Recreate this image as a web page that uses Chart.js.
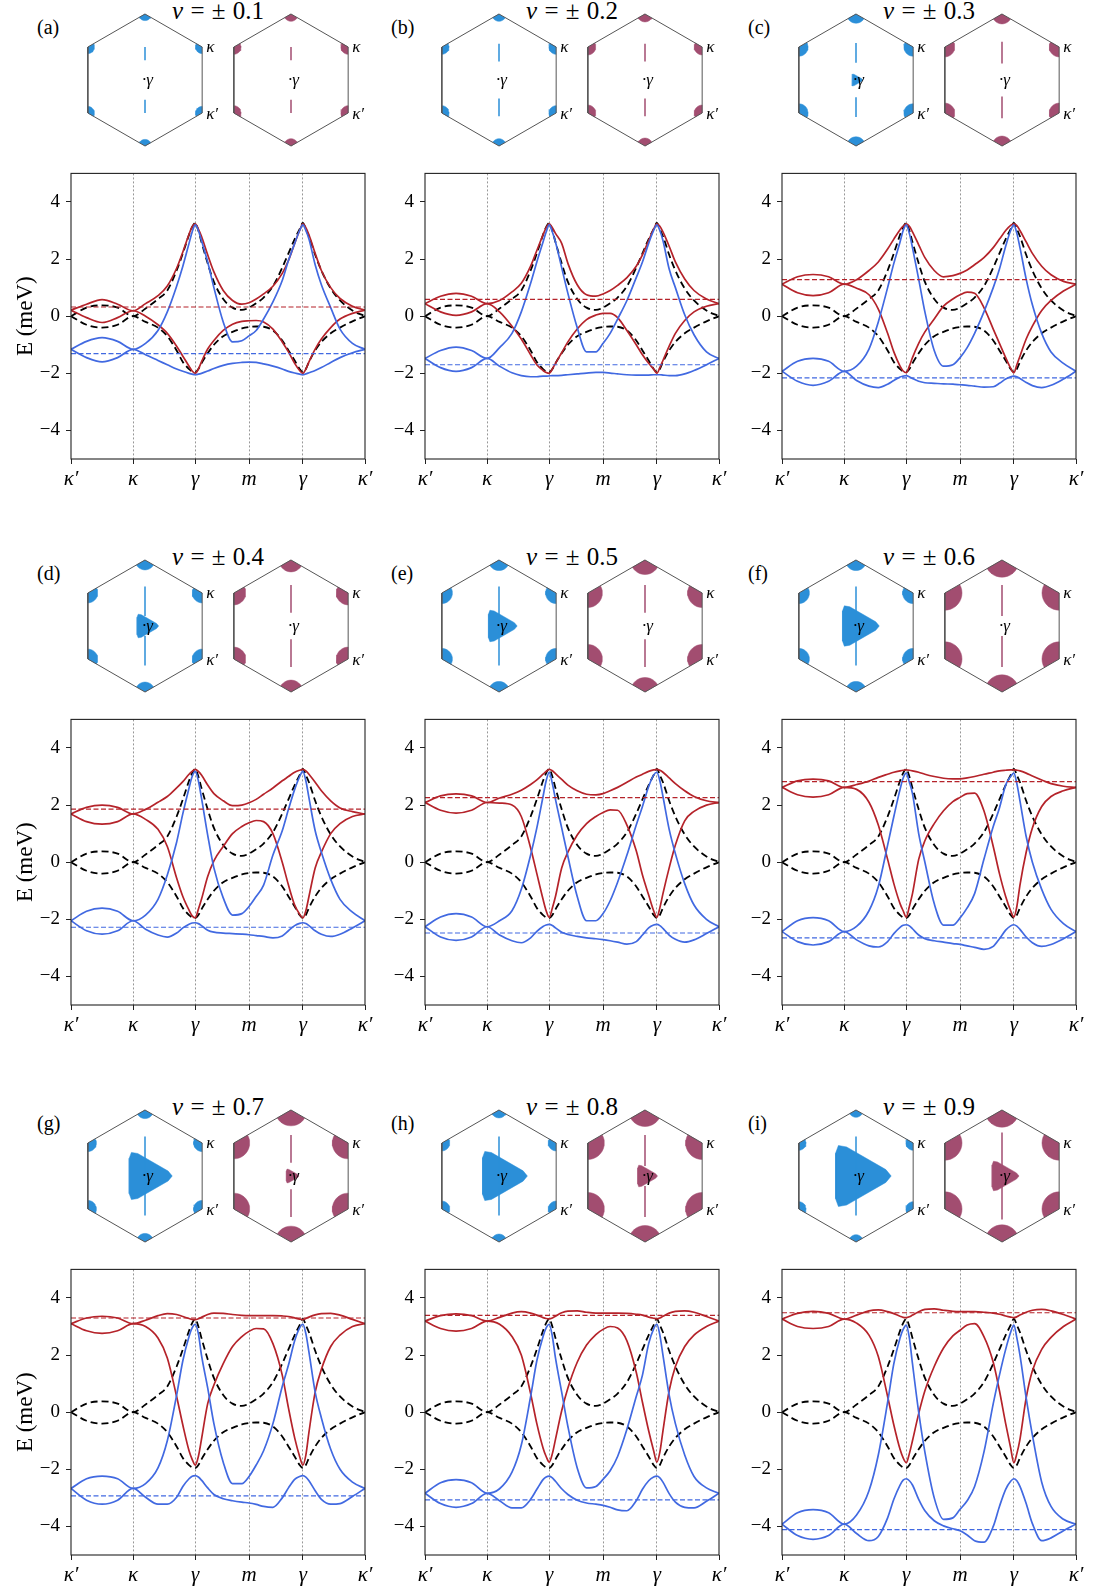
<!DOCTYPE html>
<html>
<head>
<meta charset="utf-8">
<script src="https://cdn.jsdelivr.net/npm/chart.js@4.4.1/dist/chart.umd.min.js"></script>
<style>
  body { margin: 0; background: #fff; width: 1093px; height: 1591px; position: relative; overflow: hidden;
         font-family: "Liberation Serif", "DejaVu Serif", serif; color: #000; }
  .ttl { position: absolute; font-size: 25px; line-height: 25px; transform: translateX(-50%); white-space: nowrap; word-spacing: 1px; }
  .tag { position: absolute; font-size: 20px; line-height: 20px; }
</style>
</head>
<body>
<script>
// ---- data ----
const panelTags = ['(a)', '(b)', '(c)', '(d)', '(e)', '(f)', '(g)', '(h)', '(i)'];
const fillings = ['0.1', '0.2', '0.3', '0.4', '0.5', '0.6', '0.7', '0.8', '0.9'];

// k-path: κ' -> κ -> γ -> m -> γ -> κ'  (|κ| = 1)
const kPath = [0, 0.25, 0.5, 0.75, 1,
  1.2, 1.4, 1.55, 1.7, 1.8, 1.9, 1.95, 2,
  2.05, 2.1, 2.2, 2.3, 2.45, 2.6, 2.75, 2.866,
  2.98, 3.1, 3.25, 3.4, 3.5, 3.6, 3.68, 3.732,
  3.78, 3.83, 3.93, 4.03, 4.18, 4.33, 4.53, 4.732];
const tickPos = [0, 1, 2, 2.866, 3.732, 4.732];
const tickLabels = ['κ′', 'κ', 'γ', 'm', 'γ', 'κ′'];
const yTicks = [-4, -2, 0, 2, 4];

// bare bands (black dashed, same in every panel)
const bareUpper = [0, 0.3, 0.38, 0.3, 0,
  0.27, 0.6, 0.9, 1.6, 2.2, 2.85, 3.12, 3.27,
  3.0, 2.6, 1.85, 1.2, 0.6, 0.3, 0.22, 0.3,
  0.45, 0.65, 1.05, 1.7, 2.2, 2.7, 3.05, 3.27,
  3.05, 2.8, 2.15, 1.6, 0.97, 0.55, 0.2, 0];
const bareLower = [0, -0.3, -0.4, -0.3, 0,
  -0.2, -0.4, -0.7, -1.2, -1.6, -1.85, -1.93, -1.96,
  -1.85, -1.65, -1.3, -1.0, -0.7, -0.55, -0.43, -0.38,
  -0.36, -0.37, -0.5, -0.85, -1.2, -1.55, -1.85, -1.96,
  -1.85, -1.6, -1.2, -0.9, -0.6, -0.4, -0.18, 0];

// Hartree-Fock bands, one row per panel (a..i)
const redUpper = [
  [0.21, 0.42, 0.58, 0.42, 0.19, 0.44, 0.72, 1.06, 1.68, 2.25, 2.87, 3.13, 3.23, 3.05, 2.8, 2.15, 1.55, 0.9, 0.55, 0.42, 0.47, 0.6, 0.78, 1.05, 1.5, 1.95, 2.55, 3.0, 3.23, 3.1, 2.85, 2.2, 1.6, 1.0, 0.62, 0.35, 0.21],
  [0.44, 0.7, 0.8, 0.7, 0.44, 0.55, 0.85, 1.15, 1.75, 2.3, 2.85, 3.1, 3.23, 3.1, 2.9, 2.55, 1.85, 1.1, 0.75, 0.7, 0.78, 0.9, 1.08, 1.35, 1.75, 2.15, 2.65, 3.05, 3.23, 3.15, 2.95, 2.45, 1.9, 1.3, 0.9, 0.6, 0.44],
  [1.12, 1.38, 1.46, 1.38, 1.12, 1.28, 1.6, 1.9, 2.35, 2.7, 3.03, 3.15, 3.23, 3.15, 2.95, 2.5, 2.05, 1.6, 1.38, 1.42, 1.5, 1.62, 1.8, 2.05, 2.4, 2.7, 3.0, 3.18, 3.23, 3.17, 3.0, 2.6, 2.2, 1.75, 1.45, 1.22, 1.12],
  [1.69, 1.92, 2.0, 1.92, 1.69, 1.85, 2.1, 2.3, 2.6, 2.82, 3.08, 3.18, 3.25, 3.18, 3.05, 2.7, 2.4, 2.15, 1.98, 2.0, 2.08, 2.2, 2.38, 2.6, 2.85, 3.0, 3.15, 3.22, 3.25, 3.2, 3.08, 2.8, 2.5, 2.15, 1.9, 1.77, 1.69],
  [2.09, 2.32, 2.39, 2.32, 2.09, 2.25, 2.38, 2.52, 2.72, 2.88, 3.08, 3.18, 3.25, 3.2, 3.1, 2.9, 2.7, 2.5, 2.38, 2.36, 2.4, 2.5, 2.62, 2.8, 2.98, 3.08, 3.18, 3.23, 3.25, 3.22, 3.15, 2.95, 2.75, 2.5, 2.3, 2.15, 2.09],
  [2.62, 2.85, 2.91, 2.85, 2.62, 2.72, 2.84, 2.97, 3.08, 3.15, 3.2, 3.22, 3.23, 3.22, 3.2, 3.15, 3.08, 3.0, 2.94, 2.92, 2.92, 2.95, 3.0, 3.08, 3.15, 3.2, 3.22, 3.23, 3.23, 3.22, 3.2, 3.12, 3.02, 2.88, 2.75, 2.66, 2.62],
  [3.1, 3.3, 3.36, 3.3, 3.1, 3.22, 3.38, 3.45, 3.42, 3.35, 3.28, 3.25, 3.24, 3.27, 3.32, 3.42, 3.47, 3.46, 3.42, 3.39, 3.38, 3.38, 3.38, 3.38, 3.37, 3.35, 3.3, 3.26, 3.24, 3.28, 3.33, 3.41, 3.45, 3.46, 3.4, 3.25, 3.1],
  [3.19, 3.38, 3.44, 3.38, 3.19, 3.32, 3.47, 3.52, 3.47, 3.4, 3.31, 3.28, 3.27, 3.3, 3.36, 3.48, 3.54, 3.55, 3.5, 3.47, 3.47, 3.47, 3.47, 3.46, 3.43, 3.4, 3.33, 3.29, 3.27, 3.3, 3.36, 3.47, 3.53, 3.55, 3.5, 3.35, 3.19],
  [3.26, 3.46, 3.53, 3.46, 3.26, 3.4, 3.55, 3.58, 3.52, 3.45, 3.36, 3.32, 3.31, 3.34, 3.4, 3.52, 3.6, 3.62, 3.57, 3.53, 3.52, 3.52, 3.52, 3.5, 3.47, 3.43, 3.37, 3.33, 3.31, 3.34, 3.4, 3.5, 3.57, 3.6, 3.55, 3.42, 3.26]
];
const redLower = [
  [0.21, -0.05, -0.22, -0.05, 0.19, 0.0, -0.3, -0.6, -1.05, -1.4, -1.75, -1.92, -2.0, -1.85, -1.6, -1.15, -0.85, -0.5, -0.28, -0.18, -0.16, -0.15, -0.2, -0.45, -0.9, -1.25, -1.65, -1.9, -2.0, -1.85, -1.6, -1.15, -0.8, -0.4, -0.1, 0.1, 0.21],
  [0.44, 0.15, 0.03, 0.15, 0.44, 0.15, -0.35, -0.8, -1.35, -1.7, -1.9, -1.97, -2.0, -1.85, -1.65, -1.28, -0.9, -0.45, -0.12, 0.04, 0.1, 0.1, -0.05, -0.5, -1.0, -1.35, -1.65, -1.85, -2.0, -1.8, -1.55, -1.05, -0.6, -0.15, 0.15, 0.35, 0.44],
  [1.12, 0.82, 0.72, 0.82, 1.12, 0.98, 0.75, 0.25, -0.6, -1.25, -1.75, -1.92, -1.98, -1.75, -1.45, -0.95, -0.55, -0.1, 0.35, 0.6, 0.75, 0.84, 0.8, 0.3, -0.45, -0.95, -1.45, -1.82, -1.98, -1.7, -1.4, -0.8, -0.35, 0.2, 0.55, 0.88, 1.12],
  [1.69, 1.42, 1.33, 1.42, 1.69, 1.5, 1.15, 0.55, -0.55, -1.2, -1.68, -1.88, -1.95, -1.65, -1.3, -0.5, 0.05, 0.55, 1.0, 1.25, 1.38, 1.46, 1.42, 1.0, 0.0, -0.8, -1.5, -1.82, -1.95, -1.7, -1.2, -0.2, 0.35, 1.0, 1.35, 1.6, 1.69],
  [2.09, 1.82, 1.72, 1.82, 2.09, 2.07, 2.0, 1.6, 0.5, -0.4, -1.3, -1.7, -1.93, -1.6, -1.2, -0.2, 0.35, 0.95, 1.35, 1.6, 1.74, 1.83, 1.82, 1.3, 0.4, -0.45, -1.15, -1.7, -1.93, -1.6, -1.1, -0.2, 0.6, 1.45, 1.78, 2.0, 2.09],
  [2.62, 2.36, 2.28, 2.36, 2.62, 2.55, 2.1, 1.3, 0.1, -0.75, -1.45, -1.7, -1.92, -1.55, -1.1, 0.1, 0.75, 1.35, 1.8, 2.12, 2.27, 2.4, 2.42, 1.8, 0.55, -0.4, -1.2, -1.7, -1.92, -1.55, -0.8, 0.35, 1.2, 1.95, 2.3, 2.5, 2.62],
  [3.1, 2.85, 2.76, 2.85, 3.1, 3.0, 2.6, 1.9, 0.55, -0.45, -1.35, -1.65, -1.85, -1.55, -0.95, 0.3, 0.95, 1.7, 2.3, 2.65, 2.83, 2.93, 2.92, 2.4, 1.3, 0.15, -0.9, -1.55, -1.85, -1.5, -0.7, 0.7, 1.5, 2.3, 2.7, 3.0, 3.1],
  [3.19, 2.93, 2.84, 2.93, 3.19, 3.08, 2.65, 2.0, 0.65, -0.4, -1.25, -1.55, -1.75, -1.45, -0.95, 0.05, 0.85, 1.75, 2.35, 2.72, 2.9, 3.0, 2.95, 2.5, 1.4, 0.35, -0.65, -1.35, -1.75, -1.4, -0.65, 0.75, 1.6, 2.3, 2.7, 3.0, 3.19],
  [3.26, 3.0, 2.93, 3.0, 3.26, 3.12, 2.7, 1.95, 0.55, -0.45, -1.3, -1.6, -1.77, -1.45, -1.0, -0.05, 0.75, 1.6, 2.25, 2.67, 2.87, 3.05, 3.1, 2.65, 1.75, 0.75, -0.4, -1.25, -1.77, -1.45, -0.95, 0.5, 1.45, 2.2, 2.62, 3.0, 3.26]
];
const blueUpper = [
  [-1.16, -0.88, -0.75, -0.88, -1.16, -0.95, -0.5, 0.15, 1.05, 1.75, 2.55, 2.95, 3.2, 3.0, 2.65, 1.9, 1.0, -0.2, -0.9, -0.86, -0.69, -0.5, -0.1, 0.5, 1.25, 1.95, 2.55, 3.0, 3.2, 3.0, 2.7, 1.8, 1.1, 0.3, -0.45, -0.95, -1.16],
  [-1.48, -1.2, -1.08, -1.2, -1.48, -1.1, -0.6, 0.15, 1.15, 1.9, 2.6, 2.95, 3.2, 2.95, 2.6, 1.7, 0.8, -0.4, -1.25, -1.25, -0.95, -0.6, -0.1, 0.55, 1.35, 1.9, 2.55, 3.0, 3.2, 3.0, 2.65, 1.65, 1.0, 0.05, -0.65, -1.25, -1.48],
  [-1.93, -1.58, -1.48, -1.58, -1.93, -1.75, -1.15, -0.2, 1.0, 1.85, 2.6, 3.0, 3.2, 2.9, 2.4, 1.3, 0.15, -1.2, -1.75, -1.7, -1.45, -1.1, -0.6, 0.15, 1.0, 1.65, 2.45, 3.0, 3.2, 2.9, 2.4, 1.3, 0.4, -0.6, -1.25, -1.65, -1.93],
  [-2.05, -1.72, -1.61, -1.72, -2.05, -1.85, -1.3, -0.45, 0.7, 1.7, 2.6, 3.0, 3.18, 2.85, 2.25, 0.95, -0.2, -1.25, -1.85, -1.8, -1.55, -1.2, -0.8, 0.25, 1.1, 1.85, 2.55, 3.0, 3.18, 2.85, 2.25, 1.1, 0.35, -0.6, -1.3, -1.75, -2.05],
  [-2.26, -1.92, -1.8, -1.92, -2.26, -2.05, -1.7, -0.95, 0.25, 1.2, 2.3, 2.85, 3.15, 2.75, 2.2, 1.2, 0.2, -1.2, -2.05, -2.05, -1.8, -1.35, -0.7, 0.25, 1.3, 1.95, 2.65, 3.05, 3.15, 2.85, 2.3, 1.15, 0.3, -0.75, -1.5, -2.0, -2.26],
  [-2.43, -2.05, -1.94, -2.05, -2.43, -2.25, -1.7, -0.85, 0.6, 1.6, 2.55, 2.95, 3.12, 2.8, 2.4, 1.0, 0.0, -1.45, -2.2, -2.2, -1.95, -1.6, -1.1, 0.1, 1.25, 1.9, 2.7, 3.0, 3.12, 2.75, 2.15, 0.9, 0.0, -0.95, -1.65, -2.15, -2.43],
  [-2.67, -2.33, -2.24, -2.33, -2.67, -2.5, -1.95, -1.0, 0.6, 1.8, 2.65, 2.95, 3.08, 2.75, 2.0, 0.85, -0.4, -1.75, -2.5, -2.5, -2.25, -1.85, -1.35, -0.4, 0.9, 1.65, 2.5, 2.95, 3.08, 2.75, 2.1, 0.7, -0.2, -1.3, -2.0, -2.45, -2.67],
  [-2.84, -2.47, -2.36, -2.47, -2.84, -2.68, -2.1, -1.15, 0.55, 1.8, 2.65, 2.95, 3.08, 2.65, 1.9, 0.7, -0.5, -1.95, -2.65, -2.6, -2.35, -2.05, -1.55, -0.6, 0.55, 1.3, 2.4, 2.92, 3.08, 2.7, 2.0, 0.6, -0.4, -1.5, -2.25, -2.65, -2.84],
  [-3.92, -3.52, -3.41, -3.52, -3.92, -3.6, -2.75, -1.5, 0.35, 1.7, 2.6, 2.9, 3.05, 2.6, 1.7, 0.0, -1.4, -3.0, -3.75, -3.7, -3.4, -3.1, -2.6, -1.4, 0.3, 1.3, 2.2, 2.8, 3.05, 2.6, 2.0, 0.5, -0.8, -2.45, -3.3, -3.75, -3.92]
];
const blueLower = [
  [-1.16, -1.45, -1.6, -1.45, -1.16, -1.35, -1.55, -1.7, -1.85, -1.93, -2.0, -2.03, -2.05, -2.03, -2.0, -1.92, -1.83, -1.72, -1.65, -1.62, -1.61, -1.62, -1.67, -1.75, -1.85, -1.93, -1.99, -2.03, -2.05, -2.02, -1.98, -1.9, -1.8, -1.62, -1.45, -1.28, -1.16],
  [-1.48, -1.8, -1.93, -1.8, -1.48, -1.75, -1.98, -2.08, -2.12, -2.12, -2.1, -2.1, -2.09, -2.08, -2.08, -2.07, -2.05, -2.02, -1.99, -1.97, -1.97, -1.99, -2.02, -2.05, -2.06, -2.06, -2.06, -2.05, -2.05, -2.05, -2.06, -2.08, -2.08, -2.02, -1.9, -1.7, -1.48],
  [-1.93, -2.28, -2.42, -2.28, -1.93, -2.25, -2.45, -2.5, -2.38, -2.25, -2.13, -2.1, -2.08, -2.12, -2.18, -2.28, -2.33, -2.35, -2.37, -2.38, -2.4, -2.42, -2.45, -2.48, -2.47, -2.35, -2.2, -2.12, -2.1, -2.12, -2.18, -2.32, -2.43, -2.5, -2.42, -2.2, -1.93],
  [-2.05, -2.4, -2.52, -2.4, -2.05, -2.35, -2.55, -2.62, -2.48, -2.3, -2.17, -2.13, -2.12, -2.15, -2.22, -2.38, -2.45, -2.48, -2.5, -2.52, -2.54, -2.57, -2.6, -2.65, -2.58, -2.4, -2.22, -2.14, -2.12, -2.15, -2.22, -2.4, -2.52, -2.6, -2.52, -2.3, -2.05],
  [-2.26, -2.62, -2.74, -2.62, -2.26, -2.55, -2.75, -2.82, -2.65, -2.42, -2.25, -2.2, -2.18, -2.22, -2.3, -2.45, -2.53, -2.6, -2.65, -2.68, -2.71, -2.75, -2.8, -2.87, -2.78, -2.55, -2.3, -2.2, -2.18, -2.22, -2.32, -2.55, -2.7, -2.8, -2.72, -2.5, -2.26],
  [-2.43, -2.78, -2.9, -2.78, -2.43, -2.72, -2.93, -2.97, -2.78, -2.5, -2.28, -2.21, -2.19, -2.23, -2.33, -2.55, -2.68, -2.75, -2.8, -2.85, -2.88, -2.93, -2.98, -3.05, -2.95, -2.68, -2.38, -2.23, -2.19, -2.24, -2.35, -2.62, -2.82, -2.95, -2.88, -2.68, -2.43],
  [-2.67, -3.08, -3.22, -3.08, -2.67, -2.98, -3.22, -3.22, -2.98, -2.6, -2.33, -2.24, -2.22, -2.27, -2.38, -2.65, -2.88, -3.03, -3.1, -3.15, -3.18, -3.23, -3.3, -3.33, -3.0, -2.65, -2.35, -2.25, -2.22, -2.27, -2.4, -2.75, -3.05, -3.22, -3.2, -2.95, -2.67],
  [-2.84, -3.2, -3.33, -3.2, -2.84, -3.1, -3.35, -3.35, -3.05, -2.7, -2.36, -2.27, -2.24, -2.3, -2.42, -2.68, -2.88, -3.08, -3.18, -3.22, -3.26, -3.33, -3.42, -3.45, -3.1, -2.7, -2.4, -2.27, -2.24, -2.3, -2.45, -2.85, -3.15, -3.33, -3.35, -3.12, -2.84],
  [-3.92, -4.32, -4.45, -4.32, -3.92, -4.25, -4.5, -4.35, -3.7, -3.05, -2.55, -2.38, -2.33, -2.4, -2.55, -3.05, -3.45, -3.8, -3.98, -4.08, -4.15, -4.3, -4.5, -4.55, -4.0, -3.3, -2.7, -2.42, -2.33, -2.4, -2.6, -3.2, -3.9, -4.5, -4.4, -4.15, -3.92]
];
const redFermi = [0.32, 0.59, 1.28, 1.86, 2.26, 2.82, 3.30, 3.39, 3.48];
const blueFermi = [-1.31, -1.70, -2.16, -2.28, -2.48, -2.65, -2.93, -3.07, -4.11];

// Fermi-surface pockets (units of |κ|)
const blueCornerR = [0.1, 0.11, 0.14, 0.15, 0.16, 0.16, 0.13, 0.12, 0.11];
const redCornerR = [0.11, 0.12, 0.15, 0.18, 0.22, 0.26, 0.24, 0.25, 0.26];
const blueTriR = [0, 0, 0.12, 0.24, 0.32, 0.41, 0.48, 0.5, 0.62];
const redTriR = [0, 0, 0, 0, 0, 0, 0.14, 0.22, 0.3];
const blueStripe = [[0.3, 0.5], [0.28, 0.55], [0.26, 0.56], [0.15, 0.6], [0, 0.6], [0, 0.6], [0, 0.6], [0, 0.6], [0, 0.6]];
const redStripe = [[0.3, 0.5], [0.28, 0.55], [0.25, 0.58], [0.2, 0.62], [0.2, 0.62], [0.15, 0.62], [0.2, 0.62], [0.15, 0.62], [0, 0.66]];

// ---- styling / layout ----
const RED = '#b5232a', BLUE = '#4169e1', POCKET_BLUE = '#2b8fd8', POCKET_RED = '#a24d70';
const SERIF = '"Liberation Serif", "DejaVu Serif", serif';
const colL = [71, 425, 782], rowT = [164, 710, 1260], PW = 294, PH = 295;
const HEX_DX = 146 / 66;

function mkCanvas(left, top, w, h) {
  const c = document.createElement('canvas');
  c.width = w; c.height = h;
  c.style.cssText = `position:absolute;left:${left}px;top:${top}px;width:${w}px;height:${h}px`;
  document.body.appendChild(c);
  return c;
}

const frame = {
  id: 'frame',
  afterDraw(chart) {
    const { ctx, chartArea: a } = chart;
    ctx.save();
    ctx.strokeStyle = '#222'; ctx.lineWidth = 1.1;
    ctx.strokeRect(a.left, a.top, a.right - a.left, a.bottom - a.top);
    ctx.restore();
  }
};

const hexLabels = {
  id: 'hexLabels',
  afterDatasetsDraw(chart) {
    const { ctx, scales: { x, y } } = chart;
    ctx.save();
    ctx.fillStyle = '#000';
    ctx.textBaseline = 'middle';
    ctx.font = 'italic 17px ' + SERIF;
    for (const cx of [0, HEX_DX]) {
      const vx = x.getPixelForValue(cx + Math.cos(Math.PI / 6));
      ctx.fillText('κ', vx + 4, y.getPixelForValue(0.5) + 1);
      ctx.fillText('κ′', vx + 4, y.getPixelForValue(-0.5) + 2);
      ctx.fillText('·γ', x.getPixelForValue(cx) - 3, y.getPixelForValue(0) + 1);
    }
    ctx.restore();
  }
};

function hexLoop(cx) {
  const p = [];
  for (let k = 0; k <= 6; k++) {
    const a = Math.PI / 2 + k * Math.PI / 3;
    p.push({ x: cx + Math.cos(a), y: Math.sin(a) });
  }
  return p;
}
function sector(cx, k, r) {
  const a = Math.PI / 2 + k * Math.PI / 3;
  const vx = cx + Math.cos(a), vy = Math.sin(a);
  const p = [{ x: vx, y: vy }];
  for (let j = 0; j <= 12; j++) {
    const t = a + Math.PI - Math.PI / 3 + j * (2 * Math.PI / 3) / 12;
    p.push({ x: vx + r * Math.cos(t), y: vy + r * Math.sin(t) });
  }
  return p;
}
function triangle(cx, r) {
  const V = [0, 1, 2].map(k => ({ x: r * Math.cos(k * 2 * Math.PI / 3), y: r * Math.sin(k * 2 * Math.PI / 3) }));
  const p = [];
  for (let k = 0; k < 3; k++) {
    const v = V[k], pv = V[(k + 2) % 3], nv = V[(k + 1) % 3];
    p.push({ x: cx + v.x + 0.18 * (pv.x - v.x), y: v.y + 0.18 * (pv.y - v.y) });
    p.push({ x: cx + 0.86 * v.x, y: 0.86 * v.y });
    p.push({ x: cx + v.x + 0.18 * (nv.x - v.x), y: v.y + 0.18 * (nv.y - v.y) });
  }
  p.push(p[0]);
  return p;
}

function hexSets(i) {
  const sets = [];
  const poly = (pts, color) => ({ data: pts, borderColor: color, backgroundColor: color, borderWidth: 0.5, pointRadius: 0, fill: 'shape' });
  const path = (pts, color, w) => ({ data: pts, borderColor: color, borderWidth: w, pointRadius: 0, fill: false });
  const sides = [[0, POCKET_BLUE, blueCornerR[i], blueTriR[i], blueStripe[i]],
                 [HEX_DX, POCKET_RED, redCornerR[i], redTriR[i], redStripe[i]]];
  for (const [cx, color, rc, rt, st] of sides) {
    sets.push(path(hexLoop(cx), '#555', 1));
    if (st[0] === 0) {
      sets.push(path([{ x: cx, y: -st[1] }, { x: cx, y: st[1] }], color, 1.5));
    } else {
      sets.push(path([{ x: cx, y: st[0] }, { x: cx, y: st[1] }], color, 1.5));
      sets.push(path([{ x: cx, y: -st[0] }, { x: cx, y: -st[1] }], color, 1.5));
    }
    if (rt > 0) sets.push(poly(triangle(cx, rt), color));
    for (let k = 0; k < 6; k++) sets.push(poly(sector(cx, k, rc), color));
  }
  return sets;
}

function bandSets(i) {
  const line = (ys, color, width, dash) => ({
    data: kPath.map((x, j) => ({ x, y: ys[j] })), borderColor: color, borderWidth: width,
    borderDash: dash, pointRadius: 0, fill: false, cubicInterpolationMode: 'monotone'
  });
  const flat = (mu, color) => ({
    data: [{ x: 0, y: mu }, { x: 4.732, y: mu }], borderColor: color, borderWidth: 1.1,
    borderDash: [5, 2.5], pointRadius: 0, fill: false
  });
  return [
    flat(redFermi[i], RED), flat(blueFermi[i], BLUE),
    line(blueUpper[i], BLUE, 1.7, []), line(blueLower[i], BLUE, 1.7, []),
    line(redUpper[i], RED, 1.7, []), line(redLower[i], RED, 1.7, []),
    line(bareUpper, '#000', 1.8, [7, 4]), line(bareLower, '#000', 1.8, [7, 4])
  ];
}

for (let i = 0; i < 9; i++) {
  const col = i % 3, row = Math.floor(i / 3);
  const L = colL[col], T = rowT[row];

  const tag = document.createElement('div');
  tag.className = 'tag';
  tag.style.left = (L - 34) + 'px'; tag.style.top = (T - 147) + 'px';
  tag.textContent = panelTags[i];
  document.body.appendChild(tag);

  const ttl = document.createElement('div');
  ttl.className = 'ttl';
  ttl.style.left = (L + PW / 2) + 'px'; ttl.style.top = (T - 166) + 'px';
  ttl.innerHTML = '<i>ν</i> = ± ' + fillings[i];
  document.body.appendChild(ttl);

  // Fermi surfaces (two hexagonal Brillouin zones)
  new Chart(mkCanvas(L, T - 154, PW, 140), {
    type: 'line',
    data: { datasets: hexSets(i) },
    options: {
      responsive: false, animation: false, events: [],
      layout: { padding: 0 },
      plugins: { legend: { display: false }, tooltip: { enabled: false } },
      scales: {
        x: { type: 'linear', display: false, min: -74 / 66, max: 220 / 66 },
        y: { type: 'linear', display: false, min: -70 / 66, max: 70 / 66 }
      }
    },
    plugins: [hexLabels]
  });

  // band structure
  new Chart(mkCanvas(L - 70, T - 8, PW + 84, PH + 44), {
    type: 'line',
    data: { datasets: bandSets(i) },
    options: {
      responsive: false, animation: false, events: [],
      layout: { padding: { top: 8, right: 14, left: 0, bottom: 0 } },
      plugins: { legend: { display: false }, tooltip: { enabled: false } },
      scales: {
        x: {
          type: 'linear', min: 0, max: 4.732,
          afterBuildTicks: s => { s.ticks = tickPos.map(v => ({ value: v })); },
          afterFit: s => { s.height = 36; },
          ticks: { autoSkip: false, maxRotation: 0, padding: 3, color: '#000',
                   font: { family: SERIF, size: 21, style: 'italic' },
                   callback: (v, k) => tickLabels[k] },
          grid: { color: c => (c.index > 0 && c.index < 5) ? '#8c8c8c' : 'rgba(0,0,0,0)',
                  lineWidth: 0.9, tickColor: '#222', tickLength: 5, tickWidth: 1 },
          border: { display: false, dash: [2, 2] }
        },
        y: {
          type: 'linear', min: -5, max: 5,
          afterBuildTicks: s => { s.ticks = yTicks.map(v => ({ value: v })); },
          afterFit: s => { s.width = 70; },
          ticks: { padding: 6, color: '#000', font: { family: SERIF, size: 19 },
                   callback: v => v < 0 ? '\u2212' + Math.abs(v) : String(v) },
          grid: { drawOnChartArea: false, color: 'rgba(0,0,0,0)', tickColor: '#222', tickLength: 5 },
          border: { display: false },
          title: { display: col === 0, text: 'E (meV)', color: '#000',
                   font: { family: SERIF, size: 23 }, padding: { top: 11, bottom: 0 } }
        }
      }
    },
    plugins: [frame]
  });
}
</script>
</body>
</html>
